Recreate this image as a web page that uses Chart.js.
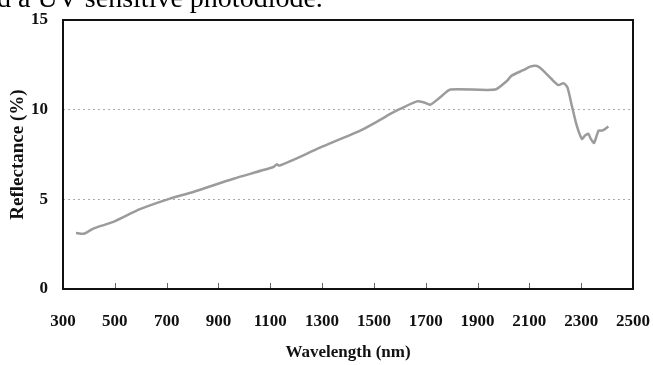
<!DOCTYPE html>
<html>
<head>
<meta charset="utf-8">
<script src="https://cdn.jsdelivr.net/npm/chart.js@4"></script>
<style>
  html, body { margin: 0; padding: 0; background: #fff; }
  #wrap { width: 653px; height: 365px; position: relative; }
</style>
</head>
<body>
<div id="wrap"><canvas id="c"></canvas></div>
<script>
// Reflectance spectrum
const wavelengths = [350, 380, 417, 494, 597, 713, 803, 958, 1112, 1125, 1135, 1189, 1292, 1447, 1524, 1563, 1601, 1666, 1691, 1718, 1756, 1795, 1968, 2013, 2032, 2076, 2103, 2125, 2140, 2161, 2193, 2212, 2232, 2247, 2264, 2283, 2303, 2315, 2328, 2337, 2350, 2367, 2380, 2393, 2405];
const reflectance = [3.12, 3.08, 3.37, 3.74, 4.45, 5.04, 5.41, 6.15, 6.80, 6.95, 6.88, 7.20, 7.88, 8.83, 9.43, 9.76, 10.04, 10.46, 10.41, 10.28, 10.69, 11.12, 11.12, 11.6, 11.9, 12.2, 12.4, 12.45, 12.35, 12.07, 11.6, 11.37, 11.48, 11.24, 10.22, 9.11, 8.37, 8.56, 8.65, 8.37, 8.15, 8.83, 8.83, 8.93, 9.06];
const xTicks = [300, 500, 700, 900, 1100, 1300, 1500, 1700, 1900, 2100, 2300, 2500];
const yTicks = [0, 5, 10, 15];
const captionText = 'd a UV sensitive photodiode.';

const points = wavelengths.map((w, i) => ({ x: w, y: reflectance[i] }));
const serif = '"Liberation Serif", "Times New Roman", serif';

// Frame around the plot area, inward ticks on the bottom axis, caption line above
const framePlugin = {
  id: 'framePlugin',
  afterDraw(chart) {
    const { ctx, chartArea: a, scales } = chart;
    ctx.save();
    // inward tick marks
    ctx.strokeStyle = '#666';
    ctx.lineWidth = 1;
    xTicks.slice(1, -1).forEach(v => {
      const px = Math.round(scales.x.getPixelForValue(v)) + 0.5;
      ctx.beginPath();
      ctx.moveTo(px, a.bottom);
      ctx.lineTo(px, a.bottom - 6);
      ctx.stroke();
    });
    // plot frame
    ctx.strokeStyle = '#111';
    ctx.lineWidth = 2;
    ctx.strokeRect(a.left, a.top, a.right - a.left, a.bottom - a.top);
    // caption text from the surrounding page
    ctx.fillStyle = '#000';
    ctx.font = '28px ' + serif;
    ctx.textBaseline = 'alphabetic';
    ctx.textAlign = 'left';
    ctx.fillText(captionText, -3, 7);
    ctx.restore();
  }
};

new Chart(document.getElementById('c'), {
  type: 'line',
  data: {
    datasets: [{
      data: points,
      borderColor: '#9b9b9b',
      borderWidth: 2.5,
      pointRadius: 0,
      tension: 0.2,
      fill: false
    }]
  },
  options: {
    responsive: true,
    maintainAspectRatio: false,
    animation: false,
    layout: { padding: { top: 20, right: 20, left: 0, bottom: 0 } },
    plugins: { legend: { display: false }, tooltip: { enabled: false } },
    scales: {
      x: {
        type: 'linear',
        min: 300,
        max: 2500,
        afterBuildTicks: s => { s.ticks = xTicks.map(v => ({ value: v })); },
        afterFit: s => { s.height = 76; s.paddingLeft = 0; s.paddingRight = 0; },
        grid: { display: false, drawTicks: false },
        border: { display: false },
        ticks: {
          padding: 22,
          color: '#111',
          font: { family: serif, size: 17, weight: 'bold' },
          maxRotation: 0,
          autoSkip: false,
          callback: v => String(v)
        },
        title: {
          display: true,
          text: 'Wavelength (nm)',
          color: '#111',
          font: { family: serif, size: 17, weight: 'bold' },
          padding: { top: 4, bottom: 2 }
        }
      },
      y: {
        min: 0,
        max: 15,
        afterBuildTicks: s => { s.ticks = yTicks.map(v => ({ value: v })); },
        afterFit: s => { s.width = 63; s.paddingTop = 0; s.paddingBottom = 0; },
        grid: {
          drawTicks: false,
          lineWidth: 1,
          color: c => (c.tick && (c.tick.value === 5 || c.tick.value === 10)) ? '#aaaaaa' : 'rgba(0,0,0,0)'
        },
        border: { display: false, dash: [2, 3] },
        ticks: {
          padding: 15,
          color: '#111',
          font: { family: serif, size: 17, weight: 'bold' },
          callback: v => String(v)
        },
        title: {
          display: true,
          text: 'Reflectance (%)',
          color: '#111',
          font: { family: serif, size: 19, weight: 'bold' },
          padding: { top: 7, bottom: 4 }
        }
      }
    }
  },
  plugins: [framePlugin]
});
</script>
</body>
</html>
